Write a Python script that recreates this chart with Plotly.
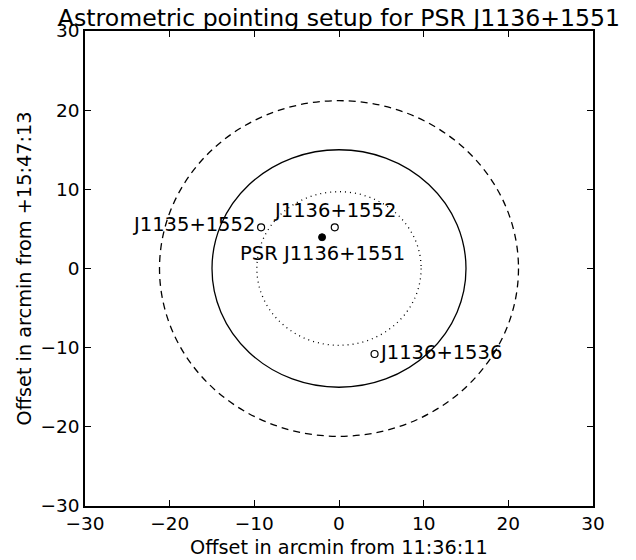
import plotly.graph_objects as go

# Data
circle_radii = [21.2, 15.0, 9.7]
circle_dashes = ["7px,5px", "solid", "1px,4px"]

target_name = ["PSR J1136+1551"]
target_x = [-2.0]
target_y = [3.95]

cal_names = ["J1136+1552", "J1135+1552", "J1136+1536"]
cal_x = [-0.5, -9.2, 4.2]
cal_y = [5.2, 5.2, -10.8]

tick_vals = [-30, -20, -10, 0, 10, 20, 30]
tick_text = ["\u221230", "\u221220", "\u221210", "0", "10", "20", "30"]

FONT = "DejaVu Sans"

fig = go.Figure()

shapes = []
for r, d in zip(circle_radii, circle_dashes):
    shapes.append(dict(type="circle", xref="x", yref="y",
                       x0=-r, x1=r, y0=-r, y1=r,
                       line=dict(color="black", width=1.3, dash=d)))

fig.add_trace(go.Scatter(x=target_x, y=target_y, mode="markers",
                         marker=dict(color="black", size=7, line=dict(color="black", width=1)),
                         showlegend=False, hoverinfo="skip"))
fig.add_trace(go.Scatter(x=cal_x, y=cal_y, mode="markers",
                         marker=dict(color="white", size=7, line=dict(color="black", width=1.2)),
                         showlegend=False, hoverinfo="skip"))

annotations = []
# label placements: (xanchor, yanchor, xshift, yshift)
placements = [("center", "bottom", 0, 3), ("right", "middle", -4, 3), ("left", "middle", 2, 2)]
for n, x, y, p in zip(cal_names, cal_x, cal_y, placements):
    annotations.append(dict(x=x, y=y, xref="x", yref="y", text=n, showarrow=False,
                            xanchor=p[0], yanchor=p[1], xshift=p[2], yshift=p[3],
                            font=dict(family=FONT, size=19.5, color="black")))
for n, x, y in zip(target_name, target_x, target_y):
    annotations.append(dict(x=x, y=y, xref="x", yref="y", text=n, showarrow=False,
                            xanchor="center", yanchor="top", yshift=-3,
                            font=dict(family=FONT, size=19.5, color="black")))

axis_common = dict(range=[-30, 30], tickvals=tick_vals, ticktext=tick_text,
                   ticks="inside", ticklen=6, tickwidth=1, tickcolor="black",
                   showline=True, linecolor="black", linewidth=1.5, mirror="ticks",
                   showgrid=False, zeroline=False, automargin=False,
                   tickfont=dict(family=FONT, size=18.5, color="black"))

W, H = 636, 560
fig.update_layout(
    width=W, height=H,
    paper_bgcolor="white", plot_bgcolor="white",
    margin=dict(l=85, r=43, t=31, b=54),
    shapes=shapes, annotations=annotations,
    title=dict(text="Astrometric pointing setup for PSR J1136+1551",
               font=dict(family=FONT, size=23.6, color="black"),
               x=0.5, xref="paper", xanchor="center",
               y=1 - 25.5 / H, yanchor="bottom", yref="container",
               automargin=False, pad=dict(t=0, b=0, l=0, r=0)),
    xaxis=dict(**axis_common,
               title=dict(text="Offset in arcmin from 11:36:11", standoff=8,
                          font=dict(family=FONT, size=19.3, color="black"))),
    yaxis=dict(**axis_common,
               title=dict(text="Offset in arcmin from +15:47:13", standoff=4,
                          font=dict(family=FONT, size=19.3, color="black"))),
)

fig.write_html("out.html", config={"displayModeBar": False},
               post_script="document.body.style.margin='0';document.body.style.padding='0';")
